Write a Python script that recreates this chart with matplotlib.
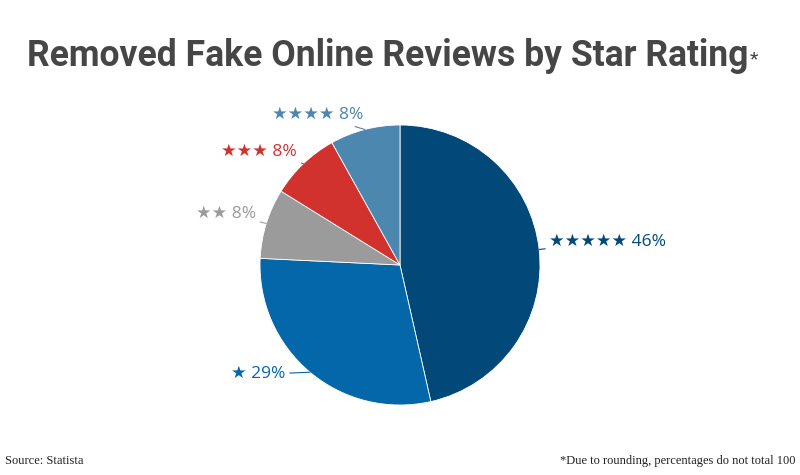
import numpy as np
import matplotlib
matplotlib.use("Agg")
import matplotlib.pyplot as plt

# data, clockwise from 12 o'clock
ratings = ["★★★★★", "★", "★★", "★★★", "★★★★"]
shares = [46, 29, 8, 8, 8]
colors = ["#02497a", "#0467a9", "#9b9b9b", "#d2322d", "#4c87b0"]
# label radius (in pie radii) and angle nudge (deg) from the wedge middle
label_r = [1.08, 1.13, 1.09, 1.09, 1.10]
label_nudge = [2.6, -6.3, -2.2, -1.3, -0.8]

fig = plt.figure(figsize=(8, 4.75), dpi=100)
W, H = 800, 475
cx, cy, rad = 400, 265, 140
ax = fig.add_axes([(cx - rad) / W, (H - cy - rad) / H, 2 * rad / W, 2 * rad / H])

wedges, _ = ax.pie(shares, colors=colors, startangle=90, counterclock=False,
                   radius=1, wedgeprops=dict(edgecolor="white", linewidth=0.6))
ax.set_xlim(-1, 1)
ax.set_ylim(-1, 1)
ax.set_aspect("equal")
ax.axis("off")

for w, r, s, c, d, n in zip(wedges, ratings, shares, colors, label_r, label_nudge):
    mid = (w.theta1 + w.theta2) / 2
    ang = np.deg2rad(mid)
    x, y = np.cos(ang), np.sin(ang)
    ta = np.deg2rad(mid + n)
    ha = "left" if x > 0 else "right"
    ax.annotate(r + " " + str(s) + "%", xy=(x, y),
                xytext=(d * np.cos(ta), d * np.sin(ta)),
                ha=ha, va="center", color=c, fontsize=12.5,
                family=["Open Sans", "DejaVu Sans"],
                arrowprops=dict(arrowstyle="-", color=c, lw=0.8, shrinkA=1, shrinkB=0),
                annotation_clip=False)

title = fig.text(0.485, 1 - 56 / H, "Removed Fake Online Reviews by Star Rating",
                 ha="center", va="center", fontsize=25.6, fontweight="bold",
                 family="Roboto", color="#464646")
fig.canvas.draw()
bb = title.get_window_extent()
fig.text(bb.x1 / W + 0.001, bb.y0 / H + 0.012, "*", ha="left", va="bottom",
         fontsize=14, family="Roboto", color="#464646")

fig.text(5 / W, 1 - 461 / H, "Source: Statista", ha="left", va="center",
         fontsize=9, family="Liberation Serif", color="#222222")
fig.text(795 / W, 1 - 461 / H, "*Due to rounding, percentages do not total 100",
         ha="right", va="center", fontsize=9, family="Liberation Serif",
         color="#222222")

fig.savefig("out.png", dpi=100, facecolor="white")
